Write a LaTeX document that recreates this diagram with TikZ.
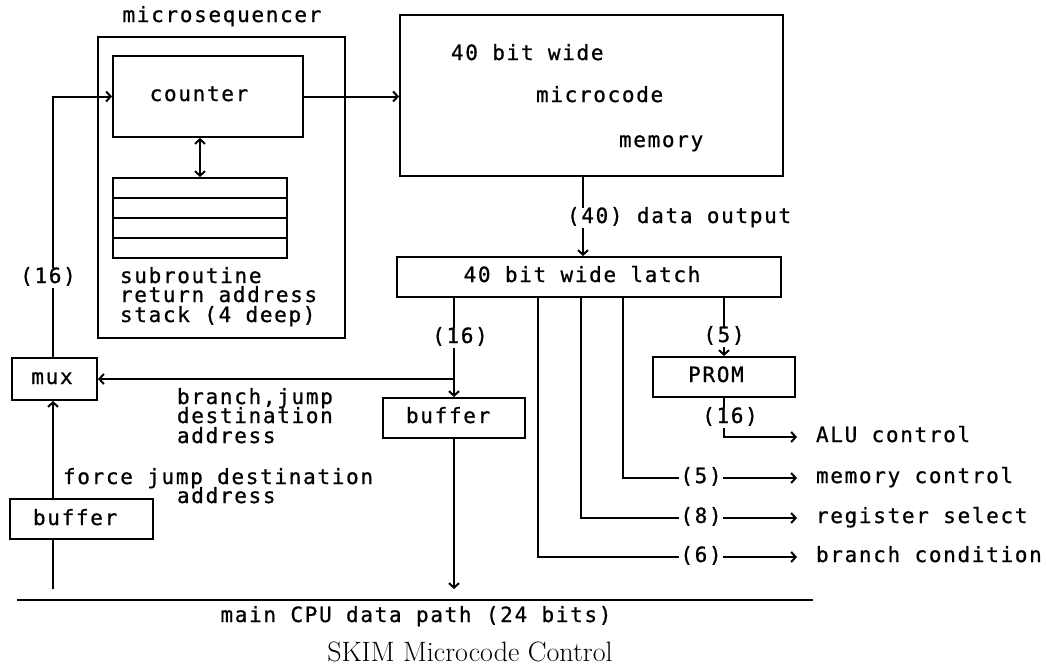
\documentclass[tikz,border=0pt]{standalone}
\usepackage{fontspec}
\newfontfamily\plotfont[LetterSpace=8,FakeBold=0.8]{DejaVu Sans Mono}
\usetikzlibrary{arrows.meta}
\begin{document}
\begin{tikzpicture}[x=1pt,y=-1pt,line width=2pt,
  box/.style={draw,rectangle,inner sep=0pt},
  lbl/.style={font=\plotfont\fontsize{21}{21}\selectfont,inner sep=0pt,text height=15pt,text depth=5pt},
  wlbl/.style={lbl,fill=white,inner xsep=1pt},
  arr/.style={-{Straight Barb[length=4.5pt,width=10pt]}},
  dbl/.style={{Straight Barb[length=4.5pt,width=10pt]}-{Straight Barb[length=4.5pt,width=10pt]}},
  ttl/.style={font=\fontsize{28}{30}\selectfont,inner sep=0pt}]
\useasboundingbox (0,0) rectangle (1046,667);

% boxes
\node[box,minimum width=247,minimum height=301] (mseq) at (221.5,187.5) {};
\node[box,minimum width=190,minimum height=81] (counter) at (208,96.5) {};
\node[box,minimum width=174,minimum height=20] (s1) at (200,188) {};
\node[box,minimum width=174,minimum height=20] (s2) at (200,208) {};
\node[box,minimum width=174,minimum height=20] (s3) at (200,228) {};
\node[box,minimum width=174,minimum height=20] (s4) at (200,248) {};
\node[box,minimum width=383,minimum height=161] (memory) at (591.5,95.5) {};
\node[box,minimum width=384,minimum height=40] (latch) at (589,277) {};
\node[box,minimum width=142,minimum height=40] (prom) at (724,377) {};
\node[box,minimum width=142,minimum height=40] (buf2) at (454,418) {};
\node[box,minimum width=85,minimum height=42] (mux) at (54.5,379) {};
\node[box,minimum width=143,minimum height=40] (buf1) at (81.5,519) {};

% guide coordinates
\coordinate (x53) at (53,0);
\coordinate (x583) at (583,0);
\coordinate (x538) at (538,0);
\coordinate (x581) at (581,0);
\coordinate (x623) at (623,0);
\coordinate (bustap) at (0,589);
\coordinate (busL) at (17,600);
\coordinate (busR) at (813,600);
\coordinate (br) at (454,379);

% output texts (right)
\node[lbl,anchor=west] (alu) at (815,437) {ALU control};
\node[lbl,anchor=west] (memc) at (815,478) {memory control};
\node[lbl,anchor=west] (regs) at (815,518) {register select};
\node[lbl,anchor=west] (brc) at (815,557) {branch condition};

% connectors
\draw[arr] (mux.north -| x53) |- (counter.west);
\draw[arr] (counter.east) -- (memory.west |- counter.east);
\draw[dbl] (s1.north |- counter.south) -- (s1.north);
\draw[arr] (memory.south -| x583) -- (latch.north -| x583);
\draw[arr] (latch.south -| buf2.north) -- (buf2.north);
\draw[arr] (br) -- (mux.east);
\draw[arr] (buf2.south) -- (buf2.south |- bustap);
\draw (bustap -| x53) -- (buf1.south -| x53);
\draw[arr] (buf1.north -| x53) -- (mux.south -| x53);
\draw (busL) -- (busR);
\draw[arr] (latch.south -| prom.north) -- (prom.north);
\draw[arr,shorten >=18pt] (prom.south) |- (alu.west);
\draw[arr,shorten >=18pt] (latch.south -| x623) |- (memc.west);
\draw[arr,shorten >=18pt] (latch.south -| x581) |- (regs.west);
\draw[arr,shorten >=18pt] (latch.south -| x538) |- (brc.west);

% texts
\node[lbl] (tmseq) at (222,17) {microsequencer};
\node[lbl] (tcounter) at (199,96) {counter};
\node[lbl,anchor=west] (tsub1) at (119,278) {subroutine};
\node[lbl,anchor=west] (tsub2) at (119,297) {return address};
\node[lbl,anchor=west] (tsub3) at (119,317) {stack (4 deep)};
\node[wlbl] (t16a) at (48,278) {(16)};
\node[lbl,anchor=west] (tm1) at (450,55) {40 bit wide};
\node[lbl,anchor=west] (tm2) at (535,97) {microcode};
\node[lbl,anchor=west] (tm3) at (618,142) {memory};
\node[wlbl,anchor=west] (t40) at (565,218) {(40) data output};
\node[lbl] (tlatch) at (582,277) {40 bit wide latch};
\node[wlbl] (t16b) at (460,338) {(16)};
\node[wlbl] (t5a) at (724,337) {(5)};
\node[lbl] (tprom) at (716,377) {PROM};
\node[wlbl] (t16c) at (730,418) {(16)};
\node[wlbl] (t5b) at (701,478) {(5)};
\node[wlbl] (t8) at (701,518) {(8)};
\node[wlbl] (t6) at (701,557) {(6)};
\node[lbl] (tmux) at (52,379) {mux};
\node[lbl,anchor=west] (tbr1) at (176,399) {branch,jump};
\node[lbl,anchor=west] (tbr2) at (176,418) {destination};
\node[lbl,anchor=west] (tbr3) at (176,438) {address};
\node[lbl,anchor=west] (tfj1) at (62,479) {force jump destination};
\node[lbl,anchor=west] (tfj2) at (176,498) {address};
\node[lbl,anchor=west] (tbuf1) at (32,520) {buffer};
\node[lbl,anchor=west] (tbuf2) at (405,418) {buffer};
\node[lbl] (tbus) at (416,617) {main CPU data path (24 bits)};
\node[ttl,anchor=base] (title) at (470,661) {SKIM Microcode Control};
\end{tikzpicture}
\end{document}
